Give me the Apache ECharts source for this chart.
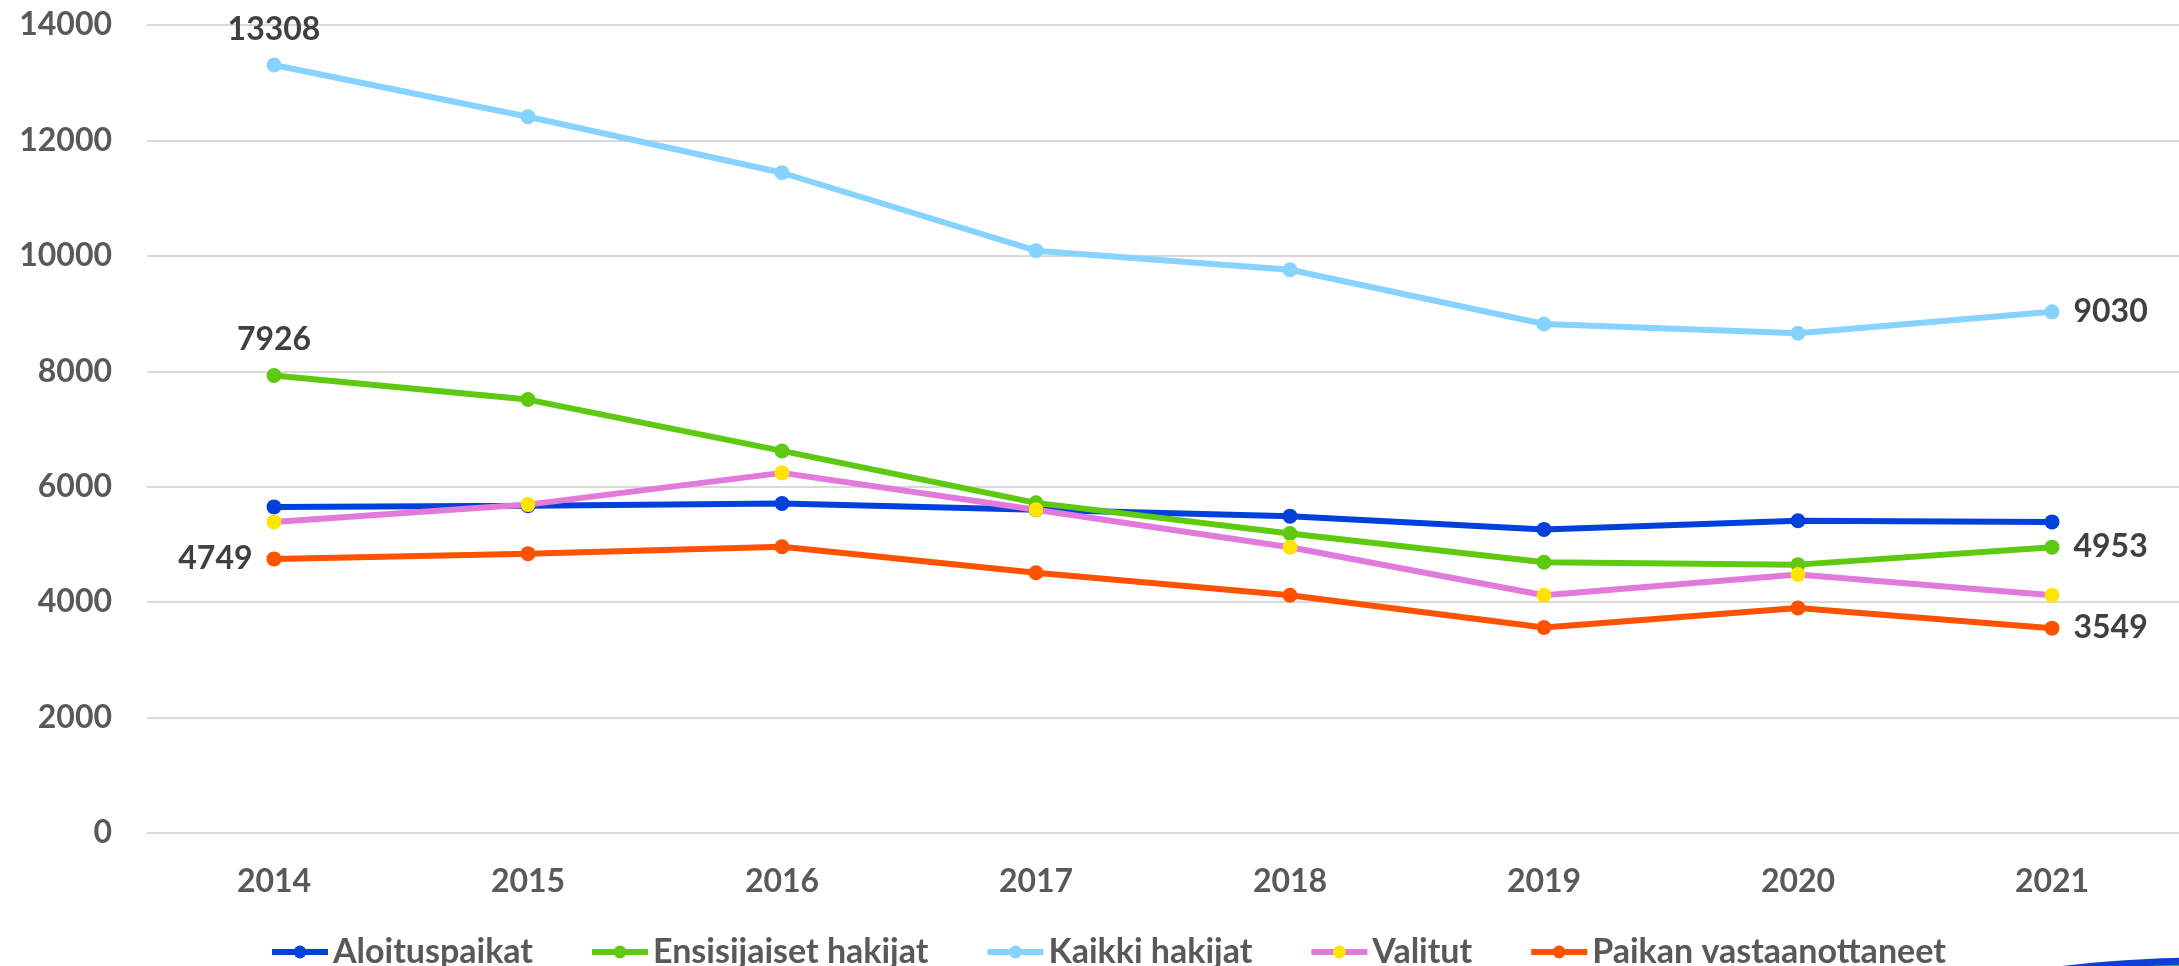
<!DOCTYPE html>
<html>
<head>
<meta charset="utf-8">
<script src="https://cdn.jsdelivr.net/npm/echarts@6/dist/echarts.min.js"></script>
<style>
  html, body { margin: 0; padding: 0; background: #fff; }
  #main { width: 2179px; height: 966px; }
</style>
</head>
<body>
<div id="main"></div>
<script>
var years = ['2014', '2015', '2016', '2017', '2018', '2019', '2020', '2021'];
var aloituspaikat = [5650, 5670, 5710, 5600, 5490, 5260, 5410, 5390];
var ensisijaiset = [7926, 7510, 6620, 5720, 5190, 4690, 4650, 4953];
var kaikki = [13308, 12410, 11440, 10090, 9760, 8820, 8660, 9030];
var valitut = [5390, 5690, 6240, 5600, 4950, 4120, 4480, 4120];
var paikan = [4749, 4840, 4960, 4510, 4120, 3560, 3900, 3549];
var yTicks = [0, 2000, 4000, 6000, 8000, 10000, 12000, 14000];

var FONT = 'Lato, "Open Sans", sans-serif';

// label only first / last point, position per series
function withLabels(arr, firstPos, lastPos) {
  return arr.map(function (v, i) {
    var pos = null;
    if (i === 0) pos = firstPos;
    if (i === arr.length - 1) pos = lastPos;
    if (!pos) return v;
    return {
      value: v,
      label: {
        show: true,
        position: pos,
        distance: pos === 'top' ? 12 : 14,
        fontFamily: FONT,
        fontWeight: 'bold',
        fontSize: 32,
        color: '#404040'
      }
    };
  });
}

function line(name, data, lineColor, dotColor) {
  return {
    name: name,
    type: 'line',
    data: data,
    symbol: 'circle',
    symbolSize: 15,
    lineStyle: { width: 6, color: lineColor },
    itemStyle: { color: dotColor || lineColor },
    emphasis: { disabled: true },
    animation: false
  };
}

var chart = echarts.init(document.getElementById('main'));
var option = {
  backgroundColor: '#fff',
  grid: { left: 147, right: 0, top: 25, bottom: 133 },
  legend: {
    left: 264,
    top: 930,
    itemWidth: 56,
    itemHeight: 16,
    itemGap: 56,
    lineStyle: { width: 6 },
    textStyle: { fontFamily: FONT, fontWeight: 'bold', fontSize: 34, color: '#595959' },
    data: ['Aloituspaikat', 'Ensisijaiset hakijat', 'Kaikki hakijat', 'Valitut', 'Paikan vastaanottaneet']
  },
  xAxis: {
    type: 'category',
    data: years,
    boundaryGap: true,
    axisLine: { show: false },
    axisTick: { show: false },
    axisLabel: { margin: 33, fontFamily: FONT, fontWeight: 'bold', fontSize: 32, color: '#595959' }
  },
  yAxis: {
    type: 'value',
    min: yTicks[0],
    max: yTicks[yTicks.length - 1],
    interval: 2000,
    axisLine: { show: false },
    axisTick: { show: false },
    axisLabel: {
      margin: 35, fontFamily: FONT, fontWeight: 'bold', fontSize: 32, color: '#595959',
      formatter: function (v) { return String(v); }
    },
    splitLine: { lineStyle: { color: '#D9D9D9', width: 2 } }
  },
  series: [
    line('Aloituspaikat', aloituspaikat, '#0041DA'),
    line('Ensisijaiset hakijat', withLabels(ensisijaiset, 'top', 'right'), '#5DCA11'),
    line('Kaikki hakijat', withLabels(kaikki, 'top', 'right'), '#86D3FF'),
    line('Valitut', valitut, '#E27ADB', '#FFE400'),
    line('Paikan vastaanottaneet', withLabels(paikan, 'left', 'right'), '#FF5200')
  ],
  graphic: [
    { type: 'circle', shape: { cx: 0, cy: 0, r: 100 }, x: 2330, y: 978, scaleX: 3, scaleY: 0.22, style: { fill: '#1EA84A' } },
    { type: 'circle', shape: { cx: 0, cy: 0, r: 100 }, x: 2330, y: 975, scaleX: 3, scaleY: 0.2, style: { fill: '#0F3FD6' } },
    { type: 'circle', shape: { cx: 0, cy: 0, r: 100 }, x: 2330, y: 982, scaleX: 3, scaleY: 0.2, style: { fill: '#2DB33A' } }
  ]
};
chart.setOption(option);
</script>
</body>
</html>
